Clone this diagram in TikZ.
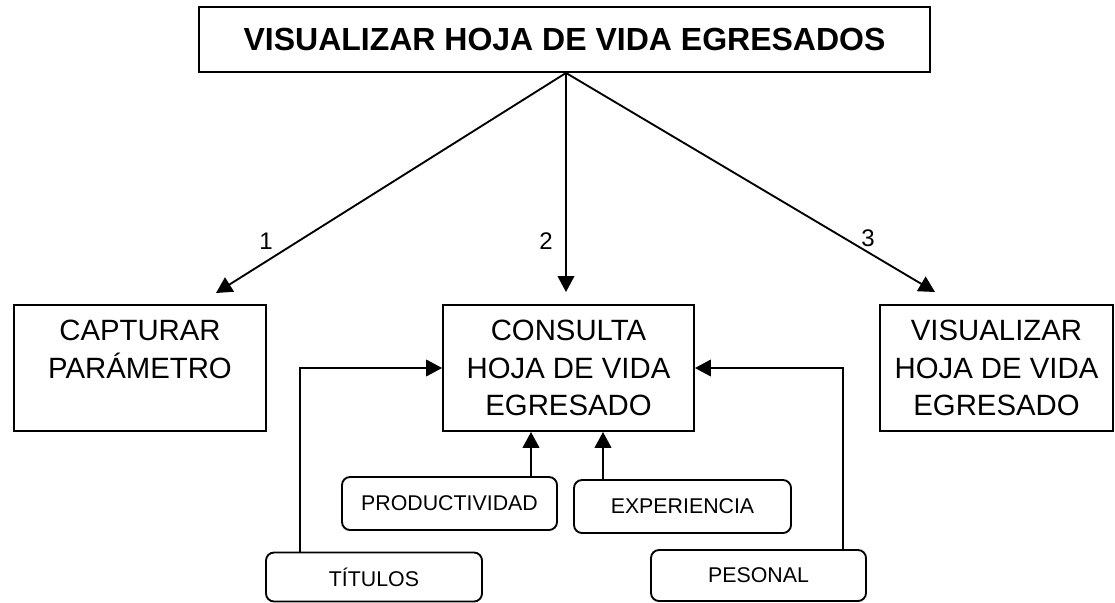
\documentclass[tikz,border=0pt]{standalone}
\usepackage{fontspec}
\setmainfont{Liberation Sans}
\usetikzlibrary{arrows.meta,calc}
\begin{document}
\begin{tikzpicture}[x=0.75pt,y=-0.75pt,
  box/.style={draw,line width=1.4pt,inner sep=0pt,align=center,font=\fontsize{22}{28}\selectfont},
  small/.style={draw,line width=1.4pt,rounded corners=6pt,inner sep=0pt,font=\fontsize{16}{19}\selectfont},
  arr/.style={line width=1.4pt,-{Triangle[length=12pt,width=12.5pt]}},
  lab/.style={font=\fontsize{18}{20}\selectfont,inner sep=0pt}]
\useasboundingbox (0,0) rectangle (1115,603);
\node[box,minimum width=731*0.75pt,minimum height=65*0.75pt,font=\fontsize{24}{28}\selectfont\bfseries] (top) at (564.5,39.5) {VISUALIZAR HOJA DE VIDA EGRESADOS};
\node[box,minimum width=252*0.75pt,minimum height=126*0.75pt] (cap) at (140,368) {CAPTURAR\\PARÁMETRO\\\phantom{EGRESADO}};
\node[box,minimum width=251*0.75pt,minimum height=126*0.75pt] (cons) at (568.5,368) {CONSULTA\\HOJA DE VIDA\\EGRESADO};
\node[box,minimum width=233*0.75pt,minimum height=126*0.75pt] (vis) at (996.5,368) {VISUALIZAR\\HOJA DE VIDA\\EGRESADO};
\node[small,minimum width=215*0.75pt,minimum height=53*0.75pt] (prod) at (449.5,503.5) {PRODUCTIVIDAD};
\node[small,minimum width=217*0.75pt,minimum height=53*0.75pt] (exp) at (682.5,506.5) {\raisebox{-2pt}{EXPERIENCIA}};
\node[small,minimum width=216*0.75pt,minimum height=49*0.75pt] (tit) at (374,577) {TÍTULOS};
\node[small,minimum width=215*0.75pt,minimum height=51*0.75pt] (pes) at (758.5,575.5) {PESONAL};
\coordinate (t1) at (216,293);
\coordinate (t2) at (566,292);
\coordinate (t3) at (935,292);
\draw[arr] ($(top.south)+(1.5,0)$) -- (t1);
\draw[arr] ($(top.south)+(1.5,0)$) -- (t2);
\draw[arr] ($(top.south)+(1.5,0)$) -- (t3);
\node[lab] (l1) at (266,241) {1};
\node[lab] (l2) at (546,241) {2};
\node[lab] (l3) at (868,238) {3};
\draw[arr] ($(tit.north)+(-74,0)$) |- (cons.west);
\draw[arr] ($(pes.north)+(84.5,0)$) |- (cons.east);
\coordinate (pa) at ($(prod.north)+(81.5,0)$);
\coordinate (ea) at ($(exp.north)+(-79.5,0)$);
\draw[arr] (pa) -- (pa |- cons.south);
\draw[arr] (ea) -- (ea |- cons.south);
\end{tikzpicture}
\end{document}
